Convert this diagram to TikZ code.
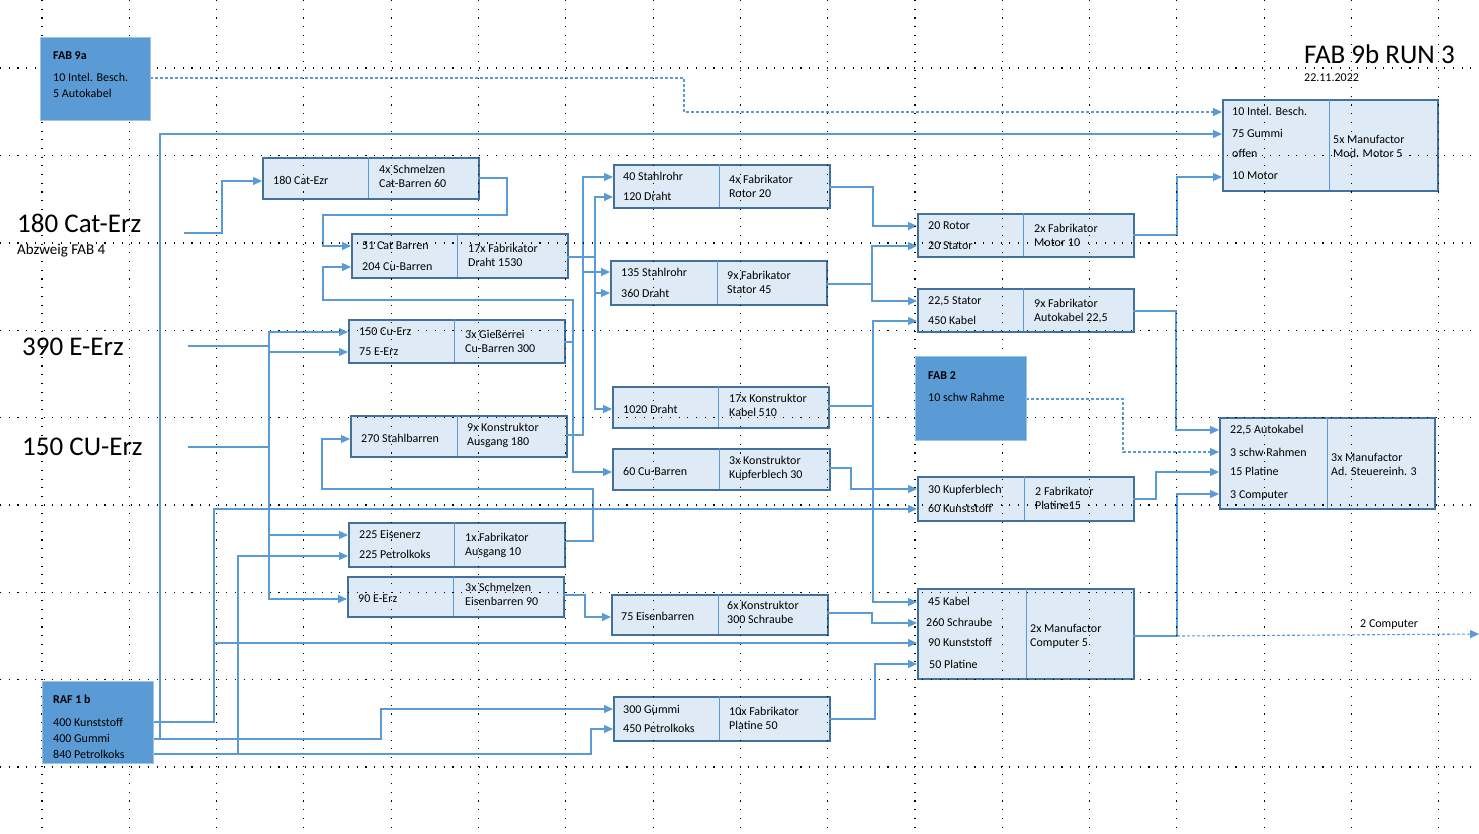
\documentclass[tikz,border=0pt]{standalone}
\usepackage{fontspec}
\setmainfont{Carlito}
\usetikzlibrary{arrows.meta}
\definecolor{boxfill}{HTML}{DEEBF7}
\definecolor{boxline}{HTML}{41719C}
\definecolor{connc}{HTML}{5B9BD5}
\definecolor{fabfill}{HTML}{5B9BD5}
\definecolor{fabline}{HTML}{9DC3E6}
\tikzset{
 pbox/.style={draw=boxline, line width=2.2pt, fill=boxfill, inner sep=0pt, anchor=north west},
 fabbox/.style={draw=fabline, line width=1.2pt, fill=fabfill, inner sep=0pt, anchor=north west},
 divline/.style={draw=connc, line width=0.9pt},
 tx/.style={anchor=west, inner sep=0pt, text height=7.7pt, text depth=0pt, font=\fontsize{12}{14}\selectfont},
 btx/.style={tx, font=\fontsize{12}{14}\selectfont\bfseries},
 bigtx/.style={anchor=west, inner sep=0pt, text height=17.4pt, text depth=0pt, font=\fontsize{27}{30}\selectfont},
 midtx/.style={anchor=west, inner sep=0pt, text height=9.6pt, text depth=0pt, font=\fontsize{15}{17}\selectfont},
 wire/.style={draw=connc, line width=1.1pt},
 arr/.style={wire, -{Triangle[length=9pt,width=8pt]}},
 darr/.style={arr, dash pattern=on 3pt off 2pt},
 griddot/.style={draw=black, line width=1.1pt, dash pattern=on 1.1pt off 7.6pt},
}
\newcommand\mytxt[4]{\node[tx] (#1) at (#2,#3) {#4};}
\begin{document}
\begin{tikzpicture}[x=1pt,y=-1pt]
\useasboundingbox (0,0) rectangle (1479,833);
\fill[white] (0,0) rectangle (1479,833);

% ---------- process boxes ----------
\node[pbox, minimum width=216pt, minimum height=41pt] (A) at (262,157) {};
\draw[divline] (368,157) -- (368,198);
\mytxt{A1}{273}{181}{180 Cat-Ezr}
\mytxt{A2}{379}{170}{4x Schmelzen}
\mytxt{A3}{379}{184}{Cat-Barren 60}

\node[pbox, minimum width=216pt, minimum height=44pt] (B) at (351,233) {};
\draw[divline] (457,233) -- (457,277);
\mytxt{B1}{362}{246}{51 Cat Barren}
\mytxt{B2}{362}{267}{204 Cu-Barren}
\mytxt{B3}{468}{249}{17x Fabrikator}
\mytxt{B4}{468}{263}{Draht 1530}

\node[pbox, minimum width=216pt, minimum height=43pt] (C) at (348,319) {};
\draw[divline] (454,319) -- (454,362);
\mytxt{C1}{359}{332}{150 Cu-Erz}
\mytxt{C2}{359}{352}{75 E-Erz}
\mytxt{C3}{465}{335}{3x Gießerrei}
\mytxt{C4}{465}{349}{Cu-Barren 300}

\node[pbox, minimum width=216pt, minimum height=41pt] (D) at (350,415) {};
\draw[divline] (457,415) -- (457,456);
\mytxt{D1}{361}{439}{270 Stahlbarren}
\mytxt{D2}{467}{428}{9x Konstruktor}
\mytxt{D3}{467}{442}{Ausgang 180}

\node[pbox, minimum width=216pt, minimum height=44pt] (E) at (348,522) {};
\draw[divline] (454,522) -- (454,566);
\mytxt{E1}{359}{535}{225 Eisenerz}
\mytxt{E2}{359}{555}{225 Petrolkoks}
\mytxt{E3}{465}{538}{1x Fabrikator}
\mytxt{E4}{465}{552}{Ausgang 10}

\node[pbox, minimum width=216pt, minimum height=40pt] (F) at (347,576) {};
\draw[divline] (453,576) -- (453,616);
\mytxt{F1}{358}{599}{90 E-Erz}
\mytxt{F2}{465}{588}{3x Schmelzen}
\mytxt{F3}{465}{602}{Eisenbarren 90}

\node[pbox, minimum width=216pt, minimum height=43pt] (G) at (613,164) {};
\draw[divline] (719,164) -- (719,207);
\mytxt{G1}{623}{177}{40 Stahlrohr}
\mytxt{G2}{623}{197}{120 Draht}
\mytxt{G3}{729}{180}{4x Fabrikator}
\mytxt{G4}{729}{194}{Rotor 20}

\node[pbox, minimum width=216pt, minimum height=44pt] (H) at (610,260) {};
\draw[divline] (717,260) -- (717,304);
\mytxt{H1}{621}{273}{135 Stahlrohr}
\mytxt{H2}{621}{294}{360 Draht}
\mytxt{H3}{727}{276}{9x Fabrikator}
\mytxt{H4}{727}{290}{Stator 45}

\node[pbox, minimum width=216pt, minimum height=41pt] (I) at (612,386) {};
\draw[divline] (718,386) -- (718,427);
\mytxt{I1}{623}{410}{1020 Draht}
\mytxt{I2}{729}{399}{17x Konstruktor}
\mytxt{I3}{729}{413}{Kabel 510}

\node[pbox, minimum width=217pt, minimum height=41pt] (J) at (612,448) {};
\draw[divline] (719,448) -- (719,489);
\mytxt{J1}{623}{472}{60 Cu-Barren}
\mytxt{J2}{729}{461}{3x Konstruktor}
\mytxt{J3}{729}{475}{Kupferblech 30}

\node[pbox, minimum width=216pt, minimum height=43pt] (K) at (917,213) {};
\draw[divline] (1023,213) -- (1023,256);
\mytxt{K1}{928}{226}{20 Rotor}
\mytxt{K2}{928}{246}{20 Stator}
\mytxt{K3}{1034}{229}{2x Fabrikator}
\mytxt{K4}{1034}{243}{Motor 10}

\node[pbox, minimum width=216pt, minimum height=43pt] (L) at (917,288) {};
\draw[divline] (1023,288) -- (1023,331);
\mytxt{L1}{928}{301}{22,5 Stator}
\mytxt{L2}{928}{321}{450 Kabel}
\mytxt{L3}{1034}{304}{9x Fabrikator}
\mytxt{L4}{1034}{318}{Autokabel 22,5}

\node[pbox, minimum width=216pt, minimum height=44pt] (M) at (917,476) {};
\draw[divline] (1024,476) -- (1024,520);
\mytxt{M1}{928}{490}{30 Kupferblech}
\mytxt{M2}{928}{509}{60 Kunststoff}
\mytxt{M3}{1035}{492}{2 Fabrikator}
\mytxt{M4}{1035}{506}{Platine15}

\node[pbox, minimum width=216pt, minimum height=90pt] (N) at (917,588) {};
\draw[divline] (1026,588) -- (1026,678);
\mytxt{N1}{928}{602}{45 Kabel}
\mytxt{N2}{926}{623}{260 Schraube}
\mytxt{N3}{928}{643}{90 Kunststoff}
\mytxt{N4}{929}{665}{50 Platine}
\mytxt{N5}{1030}{629}{2x Manufactor}
\mytxt{N6}{1030}{643}{Computer 5}

\node[pbox, minimum width=216pt, minimum height=40pt] (O) at (611,594) {};
\draw[divline] (718,594) -- (718,634);
\mytxt{O1}{621}{617}{75 Eisenbarren}
\mytxt{O2}{727}{606}{6x Konstruktor}
\mytxt{O3}{727}{620}{300 Schraube}

\node[pbox, minimum width=216pt, minimum height=44pt] (P) at (613,696) {};
\draw[divline] (719,696) -- (719,740);
\mytxt{P1}{623}{710}{300 Gummi}
\mytxt{P2}{623}{729}{450 Petrolkoks}
\mytxt{P3}{729}{712}{10x Fabrikator}
\mytxt{P4}{729}{726}{Platine 50}

\node[pbox, minimum width=215pt, minimum height=91pt] (Q) at (1222,99) {};
\draw[divline] (1329,99) -- (1329,190);
\mytxt{Q1}{1232}{112}{10 Intel. Besch.}
\mytxt{Q2}{1232}{134}{75 Gummi}
\mytxt{Q3}{1232}{154}{offen}
\mytxt{Q4}{1232}{176}{10 Motor}
\mytxt{Q5}{1333}{140}{5x Manufactor}
\mytxt{Q6}{1333}{154}{Mod. Motor 5}

\node[pbox, minimum width=215pt, minimum height=91pt] (R) at (1219,417) {};
\draw[divline] (1327,417) -- (1327,508);
\mytxt{R1}{1230}{430}{22,5 Autokabel}
\mytxt{R2}{1230}{453}{3 schw Rahmen}
\mytxt{R3}{1230}{472}{15 Platine}
\mytxt{R4}{1230}{495}{3 Computer}
\mytxt{R5}{1331}{458}{3x Manufactor}
\mytxt{R6}{1331}{472}{Ad. Steuereinh. 3}

% ---------- free labels ----------
\node[bigtx] (catErz) at (17,224) {180 Cat-Erz};
\node[midtx] (abzw) at (17,250) {Abzweig FAB 4};
\node[bigtx] (eErz) at (22,347) {390 E-Erz};
\node[bigtx] (cuErz) at (22,447) {150 CU-Erz};
\node[bigtx] (title) at (1304,55) {FAB 9b RUN 3};
\mytxt{date}{1304}{78}{22.11.2022}
\mytxt{comp2}{1360}{624}{2 Computer}

% ---------- ports ----------
\coordinate (catO) at (184,233);
\coordinate (eErzO) at (188,346);
\coordinate (cuErzO) at (188,447);
\coordinate (Ai) at (262,181);   \coordinate (Ao) at (478,178);
\coordinate (Bi1) at (351,246);  \coordinate (Bi2) at (351,267);  \coordinate (Bo) at (567,257);
\coordinate (Ci1) at (348,332);  \coordinate (Ci2) at (348,352);  \coordinate (Co) at (564,342);
\coordinate (Di) at (350,439);   \coordinate (Do) at (566,435);
\coordinate (Ei1) at (348,535);  \coordinate (Ei2) at (348,556);  \coordinate (Eo) at (564,541);
\coordinate (Fi) at (347,599);   \coordinate (Fo) at (563,595);
\coordinate (Gi1) at (613,177);  \coordinate (Gi2) at (613,197);  \coordinate (Go) at (829,187);
\coordinate (Hi1) at (610,272);  \coordinate (Hi2) at (610,293);  \coordinate (Ho) at (826,284);
\coordinate (Ii) at (612,409);   \coordinate (Io) at (828,406);
\coordinate (Ji) at (612,472);   \coordinate (Jo) at (829,468);
\coordinate (Ki1) at (917,226);  \coordinate (Ki2) at (917,246);  \coordinate (Ko) at (1133,235);
\coordinate (Li1) at (917,301);  \coordinate (Li2) at (917,321);  \coordinate (Lo) at (1133,311);
\coordinate (Mi1) at (917,489);  \coordinate (Mi2) at (917,509);  \coordinate (Mo) at (1133,499);
\coordinate (Ni1) at (917,602);  \coordinate (Ni2) at (917,623);  \coordinate (Ni3) at (917,643);
\coordinate (Ni4) at (917,664);  \coordinate (No) at (1133,636);
\coordinate (Oi) at (611,617);   \coordinate (Oo) at (827,613);
\coordinate (Pi1) at (613,709);  \coordinate (Pi2) at (613,729);  \coordinate (Po) at (829,719);
\coordinate (Qi1) at (1222,112); \coordinate (Qi2) at (1222,134); \coordinate (Qi4) at (1222,177);
\coordinate (Ri1) at (1219,430); \coordinate (Ri2) at (1219,452); \coordinate (Ri3) at (1219,472);
\coordinate (Ri4) at (1219,494);
\coordinate (F9o) at (150,78);
\coordinate (F2o) at (1026,399);
\coordinate (rafK) at (153,722);
\coordinate (rafG) at (153,739);
\coordinate (rafP) at (153,754);
\coordinate (compJ) at (1177,636);
\coordinate (compEnd) at (1479,634);

% ---------- connectors ----------
\draw[arr] (catO) -- (222,233) -- (222,181) -- (Ai);
\draw[arr] (Ao) -- (507,178) -- (507,215) -- (323,215) -- (323,246) -- (Bi1);
\draw[arr] (Co) -- (573,342) -- (573,300) -- (323,300) -- (323,267) -- (Bi2);
\draw[arr] (Co) -- (573,342) -- (573,472) -- (Ji);
\draw[arr] (Bo) -- (595,257) -- (595,197) -- (Gi2);
\draw[arr] (Bo) -- (595,257) -- (595,293) -- (Hi2);
\draw[arr] (Bo) -- (595,257) -- (595,409) -- (Ii);
\draw[arr] (Do) -- (583,435) -- (583,177) -- (Gi1);
\draw[arr] (Do) -- (583,435) -- (583,272) -- (Hi1);
\draw[arr] (Eo) -- (593,541) -- (593,489) -- (322,489) -- (322,439) -- (Di);
\draw[wire] (cuErzO) -- (269,447);
\draw[arr] (eErzO) -- (269,346) -- (269,332) -- (Ci1);
\draw[arr] (eErzO) -- (269,346) -- (269,352) -- (Ci2);
\draw[arr] (eErzO) -- (269,346) -- (269,535) -- (Ei1);
\draw[arr] (eErzO) -- (269,346) -- (269,599) -- (Fi);
\draw[arr] (Fo) -- (585,595) -- (585,617) -- (Oi);
\draw[arr] (rafK) -- (214,722) -- (214,509) -- (Mi2);
\draw[arr] (rafK) -- (214,722) -- (214,643) -- (Ni3);
\draw[arr] (rafG) -- (381,739) -- (381,709) -- (Pi1);
\draw[arr] (rafG) -- (160,739) -- (160,134) -- (Qi2);
\draw[arr] (rafP) -- (591,754) -- (591,729) -- (Pi2);
\draw[arr] (rafP) -- (238,754) -- (238,556) -- (Ei2);
\draw[arr] (Go) -- (873,187) -- (873,226) -- (Ki1);
\draw[arr] (Ho) -- (872,284) -- (872,246) -- (Ki2);
\draw[arr] (Ho) -- (872,284) -- (872,301) -- (Li1);
\draw[arr] (Io) -- (873,406) -- (873,321) -- (Li2);
\draw[arr] (Io) -- (873,406) -- (873,602) -- (Ni1);
\draw[arr] (Jo) -- (851,468) -- (851,489) -- (Mi1);
\draw[arr] (Oo) -- (872,613) -- (872,623) -- (Ni2);
\draw[arr] (Po) -- (875,719) -- (875,664) -- (Ni4);
\draw[arr] (Ko) -- (1177,235) -- (1177,177) -- (Qi4);
\draw[arr] (Lo) -- (1176,311) -- (1176,430) -- (Ri1);
\draw[arr] (Mo) -- (1156,499) -- (1156,472) -- (Ri3);
\draw[arr] (No) -- (compJ) -- (1177,494) -- (Ri4);
\draw[darr] (compJ) -- (compEnd);
\draw[darr] (F2o) -- (1123,399) -- (1123,452) -- (Ri2);
\draw[darr] (F9o) -- (684,78) -- (684,112) -- (Qi1);

% ---------- dotted page grid ----------
\foreach \gy in {68,155.5,243,330.3,417.6,505,592.3,679.6,767}
  \draw[griddot] (0,\gy) -- (1479,\gy);
\foreach \k in {0,...,16}
  \draw[griddot] ({42+87.3*\k},0) -- ({42+87.3*\k},833);

% ---------- FAB / RAF source boxes ----------
\node[fabbox, minimum width=110pt, minimum height=83pt] (F9a) at (40,37) {};
\node[btx] (F9a1) at (53,56) {FAB 9a};
\mytxt{F9a2}{53}{78}{10 Intel. Besch.}
\mytxt{F9a3}{53}{94}{5 Autokabel}

\node[fabbox, minimum width=111pt, minimum height=84pt] (F2) at (915,356) {};
\node[btx] (F21) at (928,376) {FAB 2};
\mytxt{F22}{928}{398}{10 schw Rahme}

\node[fabbox, minimum width=111pt, minimum height=82pt] (RAF) at (42,681) {};
\node[btx] (RAF1) at (53,700) {RAF 1 b};
\mytxt{RAF2}{53}{723}{400 Kunststoff}
\mytxt{RAF3}{53}{739}{400 Gummi}
\mytxt{RAF4}{53}{755}{840 Petrolkoks}
\end{tikzpicture}
\end{document}
